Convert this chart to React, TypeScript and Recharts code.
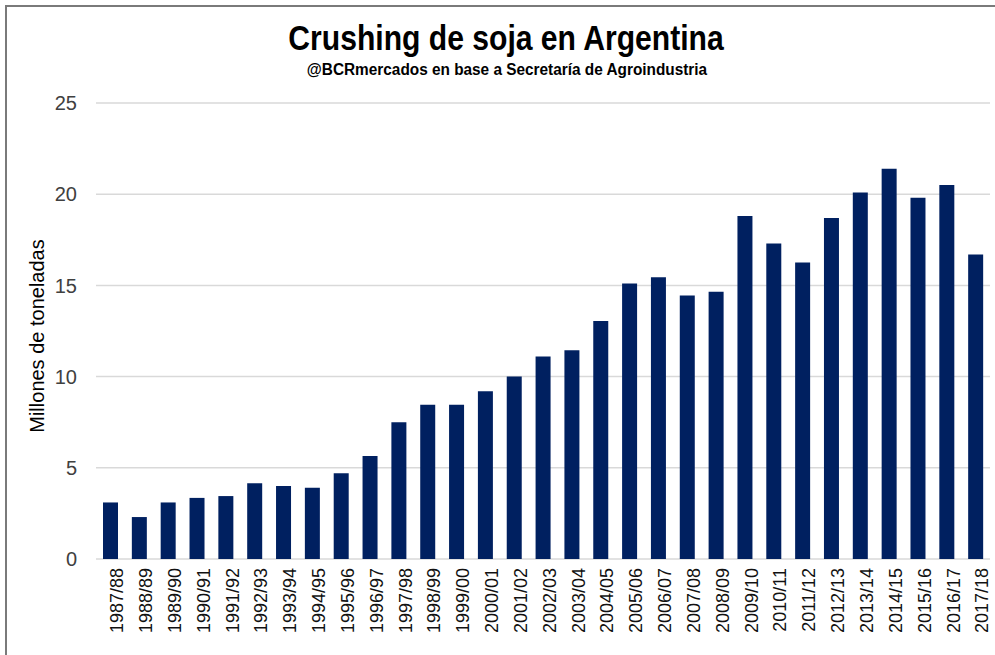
import { BarChart, Bar, XAxis, YAxis, CartesianGrid } from "recharts";

const campaigns = [
  "1987/88", "1988/89", "1989/90", "1990/91", "1991/92", "1992/93", "1993/94",
  "1994/95", "1995/96", "1996/97", "1997/98", "1998/99", "1999/00", "2000/01",
  "2001/02", "2002/03", "2003/04", "2004/05", "2005/06", "2006/07", "2007/08",
  "2008/09", "2009/10", "2010/11", "2011/12", "2012/13", "2013/14", "2014/15",
  "2015/16", "2016/17", "2017/18",
];

// millones de toneladas
const crushing = [
  3.1, 2.3, 3.1, 3.35, 3.45, 4.15, 4.0, 3.9, 4.7, 5.65, 7.5, 8.45, 8.45, 9.2,
  10.0, 11.1, 11.45, 13.05, 15.1, 15.45, 14.45, 14.65, 18.8, 17.3, 16.25, 18.7,
  20.1, 21.4, 19.8, 20.5, 16.7,
];

const yTicks = [0, 5, 10, 15, 20, 25];

const data = campaigns.map((c, i) => ({ campaign: c, value: crushing[i] }));

const sans = "'Liberation Sans', Arial, sans-serif";

export default function App() {
  return (
    <div style={{ position: "absolute", left: 0, top: 0, width: 995, height: 655, background: "#fff", overflow: "hidden" }}>
      {/* frame, only top and left edges fall inside the picture */}
      <div style={{ position: "absolute", left: 5, top: 5, width: 1000, height: 700, borderTop: "2px solid #7a7a7a", borderLeft: "2px solid #7a7a7a" }} />

      <div style={{ position: "absolute", left: 506, top: 18, transform: "translateX(-50%) scaleX(0.86)", whiteSpace: "nowrap", fontFamily: sans, fontWeight: 700, fontSize: 35, color: "#000", lineHeight: "40px" }}>
        Crushing de soja en Argentina
      </div>
      <div style={{ position: "absolute", left: 507, top: 60, transform: "translateX(-50%) scaleX(0.96)", whiteSpace: "nowrap", fontFamily: sans, fontWeight: 700, fontSize: 16, color: "#000", lineHeight: "20px" }}>
        @BCRmercados en base a Secretaría de Agroindustria
      </div>

      <div style={{ position: "absolute", left: 37, top: 336, transform: "translate(-50%, -50%) rotate(-90deg)", whiteSpace: "nowrap", fontFamily: sans, fontSize: 20, color: "#000" }}>
        Millones de toneladas
      </div>

      <div style={{ position: "absolute", left: 0, top: 0 }}>
        <BarChart width={995} height={655} data={data} margin={{ top: 103, right: 5, left: 0, bottom: 6 }}>
          <CartesianGrid vertical={false} stroke="#d9d9d9" strokeWidth={1.5} />
          <XAxis
            dataKey="campaign"
            interval={0}
            height={90}
            axisLine={false}
            tickLine={false}
            tickSize={0}
            tickMargin={8}
            angle={-90}
            textAnchor="end"
            tick={{ fontSize: 18, fill: "#111", fontFamily: sans, dy: 1 }}
          />
          <YAxis
            width={96}
            domain={[0, 25]}
            ticks={yTicks}
            axisLine={false}
            tickLine={false}
            tickSize={0}
            tickMargin={19}
            tick={{ fontSize: 20, fill: "#404040", fontFamily: sans }}
          />
          <Bar dataKey="value" fill="#002060" barSize={15} isAnimationActive={false} />
        </BarChart>
      </div>
    </div>
  );
}
